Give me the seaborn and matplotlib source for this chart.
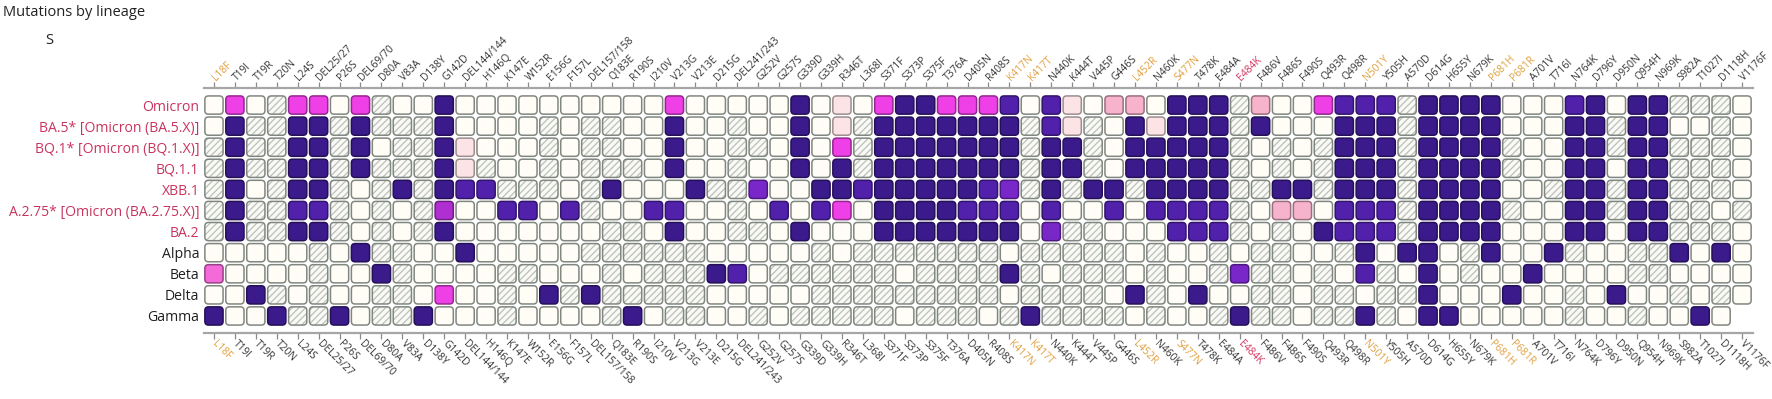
import numpy as np
import pandas as pd
import matplotlib
matplotlib.use("Agg")
import matplotlib.pyplot as plt
import seaborn as sns
from matplotlib.patches import BoxStyle
from matplotlib.markers import MarkerStyle

# ---------------- data ----------------
lineages = ["Omicron", "BA.5* [Omicron (BA.5.X)]", "BQ.1* [Omicron (BQ.1.X)]", "BQ.1.1",
            "XBB.1", "A.2.75* [Omicron (BA.2.75.X)]", "BA.2", "Alpha", "Beta", "Delta", "Gamma"]
lineage_colors = ["#c9335e"] * 7 + ["#1e1e1e"] * 4

mutations = ["L18F", "T19I", "T19R", "T20N", "L24S", "DEL25/27", "P26S", "DEL69/70", "D80A", "V83A",
             "D138Y", "G142D", "DEL144/144", "H146Q", "K147E", "W152R", "E156G", "F157L", "DEL157/158",
             "Q183E", "R190S", "I210V", "V213G", "V213E", "D215G", "DEL241/243", "G252V", "G257S",
             "G339D", "G339H", "R346T", "L368I", "S371F", "S373P", "S375F", "T376A", "D405N", "R408S",
             "K417N", "K417T", "N440K", "K444T", "V445P", "G446S", "L452R", "N460K", "S477N", "T478K",
             "E484A", "E484K", "F486V", "F486S", "F490S", "Q493R", "Q498R", "N501Y", "Y505H", "A570D",
             "D614G", "H655Y", "N679K", "P681H", "P681R", "A701V", "T716I", "N764K", "D796Y", "D950N",
             "Q954H", "N969K", "S982A", "T1027I", "D1118H", "V1176F"]
orange_mutations = ["L18F", "K417N", "K417T", "L452R", "S477N", "N501Y", "P681H", "P681R"]
red_mutations = ["E484K"]

# cell codes per lineage (D dark purple, P purple, V violet, G purple-magenta, M magenta,
# B light magenta, K pink, L faint pink, W white/absent, H hatched/no data, X empty)
omicron = "WMWHMMWMHWWDWWW" + "WWWWWWWMWWWWWD" + "WLWMDDMMMPWPLWKK" + "WDDDHKWWMPPPHD" + "DDDWWWPDWDDHHHW"
ba5 = "WDHHDDHDHHHDWWW" + "WHWHHWWDWWHWWD" + "WLHDDDDDDDHPLHWD" + "LDDDHDWWWDDDHD" + "DDDWWWDDHDDWWHW"
bq1 = "HDHHDDHDWHHDLWW" + "WHWHHWWDWWHHWD" + "WMHDDDDDDDHDDHWD" + "DDDDHWHWHDDDHD" + "DDDHWWDDHDDHHHW"
bq11 = "HDHHDDHDHHHDLHW" + "WHWHHHWDWWHWWD" + "WDHDDDDDDDHDDHWD" + "DDDDHWHWHDDDHD" + "DDDHWWDDWDDHHHW"
xbb1 = "HDWHDDHWHDHDPPH" + "HHWHDWWWDHHVWW" + "DDPDDDDDPVHDHDDH" + "DDDDHHDDHDDDHD" + "DDDWWHDDHDDHHHW"
ba275 = "HDHHPPHWHWHGWWP" + "PWPHWWPPWWHWPW" + "PMWDDDDPPPWPWWPW" + "PPPPHWKKWPPPHD" + "DDDHWWDDHDDHHWH"
ba2 = "HDHHDDHWHWHDWWW" + "WWWWHHWDWWHHWD" + "WWWDDDDDDDWVHHWW" + "WPPPHWHWDPPPHD" + "DDDWWWDDWDDHHHW"
alpha = "WWWWWHWDHHWWDWW" + "WWWHHHHHHWWWWW" + "HWHHHHHHHWHHHHHW" + "HWWHWHHWWHDWDD" + "WHDWWDHWWHHDWDW"
beta = "BWWWWHWWDHWWWWH" + "HWWWHWHHHDPWHH" + "HHHHWHHHHDHWHHHW" + "HWWHVHHWHWPHWD" + "WHWWDWWWWHHWWWW"
delta = "WWDHWHWWHHWMWWH" + "WDHDHHHHHWWWWW" + "HHHHHHHHHWHHHHWD" + "HWDWWHHWHHWHHD" + "WWWDWWHWDWWHWHW"
gamma = "DWWDHHDWHHDWWWH" + "WWWWHDWHHWWHWH" + "HHHHWHHHWHDHHHHW" + "HWWHDHHWHHDHWD" + "DWWWWWHWWHWWDWX"
cell_codes = [omicron, ba5, bq1, bq11, xbb1, ba275, ba2, alpha, beta, delta, gamma]

code_colors = {"D": "#3b1a8c", "P": "#5121ac", "V": "#7a27c9", "G": "#b02fd0", "M": "#ef3fe6",
               "B": "#f36ad8", "K": "#f6b3cb", "L": "#fce3e6", "W": "#fffdf6"}

# ---------------- build table ----------------
recs = []
for r, codes in enumerate(cell_codes):
    assert len(codes) == len(mutations), (r, len(codes))
    for c, code in enumerate(codes):
        recs.append({"x": c, "y": r, "code": code})
df = pd.DataFrame(recs)
filled = df[df["code"].isin(list(code_colors))]
hatched = df[df["code"] == "H"]

# ---------------- figure ----------------
sns.set_style("white")
plt.rcParams["font.family"] = ["Open Sans", "DejaVu Sans"]
plt.rcParams["hatch.linewidth"] = 0.9

W, H = 1772, 399
fig = plt.figure(figsize=(W / 100, H / 100), dpi=100)
left_px, right_px, top_px, bot_px = 203.5, 1752.5, 94.5, 326.5
ax = fig.add_axes([left_px / W, 1 - bot_px / H, (right_px - left_px) / W, (bot_px - top_px) / H])

cell_pt = (right_px - left_px) / len(mutations) * 0.72
size_pt = cell_pt * 0.87
S = size_pt ** 2
marker = MarkerStyle(BoxStyle("Round", pad=0, rounding_size=0.2)(-0.5, -0.5, 1, 1, 1.0))

sns.scatterplot(data=filled, x="x", y="y", hue="code", palette=code_colors, marker=marker, s=S,
                linewidth=1.1, edgecolor="#8d948d", legend=False, ax=ax, zorder=3)
coll = ax.collections[-1]
fc = np.array(coll.get_facecolors())
ec = fc.copy()
for i, f in enumerate(fc):
    if f[:3].min() > 0.95:
        ec[i] = matplotlib.colors.to_rgba("#808780")
    else:
        ec[i, :3] = f[:3] * 0.62
coll.set_edgecolors(ec)

sns.scatterplot(data=hatched, x="x", y="y", marker=marker, s=S, color="#f9f9f6",
                edgecolor="#bcc0b8", linewidth=0, hatch="/////", legend=False, ax=ax, zorder=2)
sns.scatterplot(data=hatched, x="x", y="y", marker=marker, s=S, color="#ffffff",
                edgecolor="#808780", linewidth=1.1, legend=False, ax=ax, zorder=2.5)
ax.collections[-1].set_facecolor("none")

ax.set_xlim(-0.5, len(mutations) - 0.5)
ax.set_ylim(len(lineages) - 0.5, -0.5)
ax.set_xlabel("")
ax.set_ylabel("")
ax.grid(False)

# spines first (repositioning spines resets ticks)
for side in ["left", "right"]:
    ax.spines[side].set_visible(False)
for side in ["top", "bottom"]:
    ax.spines[side].set_position(("outward", 4.7))
    ax.spines[side].set_color("#a6a6a6")
    ax.spines[side].set_linewidth(1.6)

# x ticks top and bottom
ax.set_xticks(range(len(mutations)))
ax.set_xticklabels(mutations)
ax.tick_params(axis="x", top=True, bottom=True, labeltop=True, labelbottom=True,
               direction="out", length=4.5, width=0.9, color="#8a8a8a", pad=2.0, labelsize=7.4)
for tick, name in zip(ax.xaxis.get_major_ticks(), mutations):
    col = "#e0a040" if name in orange_mutations else ("#d6335f" if name in red_mutations else "#333333")
    tick.label1.set(rotation=-45, ha="left", va="center", rotation_mode="anchor", color=col)
    tick.label2.set(rotation=45, ha="left", va="center", rotation_mode="anchor", color=col)

ax.set_yticks(range(len(lineages)))
ax.set_yticklabels(lineages)
ax.tick_params(axis="y", length=0, pad=3, labelsize=10.1)
for lab, col in zip(ax.get_yticklabels(), lineage_colors):
    lab.set_color(col)

fig.text(3 / W, 1 - 13 / H, "Mutations by lineage", ha="left", va="center", fontsize=10.5, color="#222222")
fig.text(45 / W, 1 - 40 / H, "S", ha="left", va="center", fontsize=10.5, color="#222222")

fig.savefig("out.png", dpi=100, facecolor="white")
